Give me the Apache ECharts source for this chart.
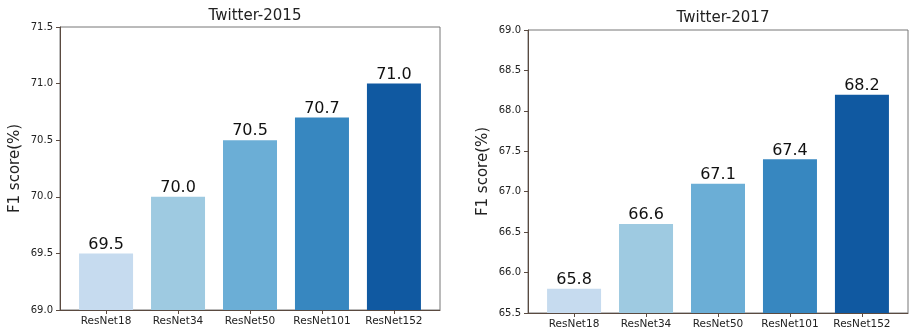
<!DOCTYPE html>
<html lang="en">
<head>
    <meta charset="UTF-8">
    <title></title>
    <style>body{margin:0;background:#fff}</style>
</head>
<body>
<div id="main" style="width: 909px;height: 333px"></div>
<script src="https://cdn.jsdelivr.net/npm/echarts@6/dist/echarts.min.js"></script>
<script>
    var categories = ['ResNet18', 'ResNet34', 'ResNet50', 'ResNet101', 'ResNet152'];
    var f1_2015 = [69.5, 70.0, 70.5, 70.7, 71.0];
    var f1_2017 = [65.8, 66.6, 67.1, 67.4, 68.2];
    var barColors = ['#c6dbef', '#9ecae1', '#6baed6', '#3787c0', '#1059a1'];
    var positions = [0, 1, 2, 3, 4];

    var font = 'DejaVu Sans';
    var axisColor = '#5a4a40';

    var myChart = echarts.init(document.getElementById('main'));

    function xAxisFor(gridIndex) {
        return {
            type: 'value',
            gridIndex: gridIndex,
            min: -0.64,
            max: 4.64,
            splitLine: {show: false},
            axisLine: {onZero: false, lineStyle: {color: axisColor, width: 1}},
            axisTick: {show: true, length: 4, customValues: positions, lineStyle: {color: axisColor}},
            axisLabel: {
                customValues: positions,
                formatter: function (v) { return categories[Math.round(v)]; },
                fontFamily: font, fontSize: 10.5, color: '#222', margin: 6
            }
        };
    }

    function yAxisFor(gridIndex, min, max) {
        return {
            type: 'value',
            gridIndex: gridIndex,
            min: min,
            max: max,
            interval: 0.5,
            name: 'F1 score(%)',
            nameLocation: 'middle',
            nameGap: 37,
            nameTextStyle: {fontFamily: font, fontSize: 15, color: '#222'},
            splitLine: {show: false},
            axisLine: {show: true, onZero: false, lineStyle: {color: axisColor, width: 1}},
            axisTick: {show: true, length: 4, lineStyle: {color: axisColor}},
            axisLabel: {
                formatter: function (v) { return v.toFixed(1); },
                fontFamily: font, fontSize: 10, color: '#222', margin: 7
            }
        };
    }

    function seriesFor(idx, values) {
        return {
            type: 'bar',
            xAxisIndex: idx,
            yAxisIndex: idx,
            barWidth: 54,
            data: positions.map(function (p) {
                return {value: [p, values[p]], itemStyle: {color: barColors[p]}};
            }),
            label: {
                show: true,
                position: 'top',
                distance: 1,
                fontFamily: font,
                fontSize: 16,
                color: '#111',
                formatter: function (p) { return p.value[1].toFixed(1); }
            }
        };
    }

    var option = {
        animation: false,
        title: [
            {text: 'Twitter-2015', left: 250, top: 4, textAlign: 'center',
                textStyle: {fontFamily: font, fontSize: 15, fontWeight: 'normal', color: '#222'}},
            {text: 'Twitter-2017', left: 718, top: 6, textAlign: 'center',
                textStyle: {fontFamily: font, fontSize: 15, fontWeight: 'normal', color: '#222'}}
        ],
        grid: [
            {left: 60, top: 27, width: 380, height: 283, show: true, borderColor: '#777', borderWidth: 1},
            {left: 528, top: 30, width: 380, height: 283, show: true, borderColor: '#777', borderWidth: 1}
        ],
        xAxis: [xAxisFor(0), xAxisFor(1)],
        yAxis: [yAxisFor(0, 69.0, 71.5), yAxisFor(1, 65.5, 69.0)],
        series: [seriesFor(0, f1_2015), seriesFor(1, f1_2017)]
    };

    myChart.setOption(option);
</script>
</body>
</html>
